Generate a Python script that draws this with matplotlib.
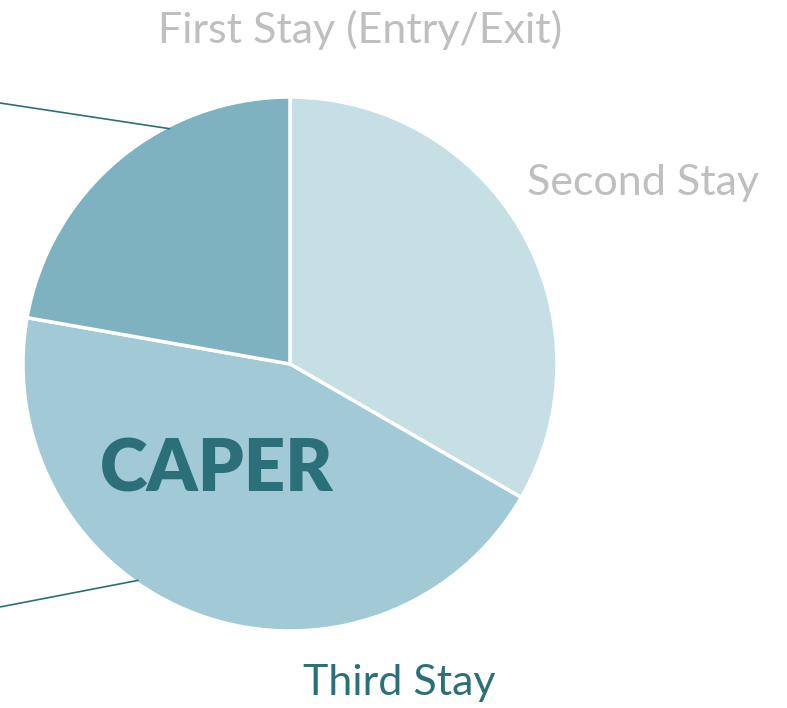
import matplotlib.pyplot as plt
import numpy as np

plt.rcParams['font.family'] = ['Lato', 'DejaVu Sans']

stays = ["Second Stay", "CAPER", "Third Stay"]
shares = [3, 4, 2]
colors = ["#C5DFE5", "#A2CAD6", "#7FB2C0"]

teal = "#2B7078"
grey = "#BFBFBF"

fig = plt.figure(figsize=(7.87, 7.08), dpi=100)
ax = fig.add_axes([0, 0, 1, 1])
ax.set_aspect("equal")

cx, cy, r = 290, 344, 267
ax.pie(shares, colors=colors, startangle=90, counterclock=False,
       center=(cx, cy), radius=r, frame=True,
       wedgeprops=dict(edgecolor="white", linewidth=2.5))
ax.set_xlim(0, 787)
ax.set_ylim(0, 708)
ax.axis("off")

# leader lines going off to the left
for ang, (x0, y0) in [(117, (0, 605)), (235, (0, 101))]:
    a = np.deg2rad(ang)
    ax.plot([x0, cx + (r - 3) * np.cos(a)], [y0, cy + (r - 3) * np.sin(a)],
            color=teal, lw=1.2, solid_capstyle="butt")

ax.text(360, 678, "First Stay (Entry/Exit)", color=grey, fontsize=31,
        ha="center", va="center")
ax.text(643, 525, "Second Stay", color=grey, fontsize=31,
        ha="center", va="center")
ax.text(399, 25, "Third Stay", color=teal, fontsize=31,
        ha="center", va="center")
ax.text(217, 238, "CAPER", color=teal, fontsize=52, fontweight="heavy",
        ha="center", va="center")

fig.savefig("out.png", dpi=100)
